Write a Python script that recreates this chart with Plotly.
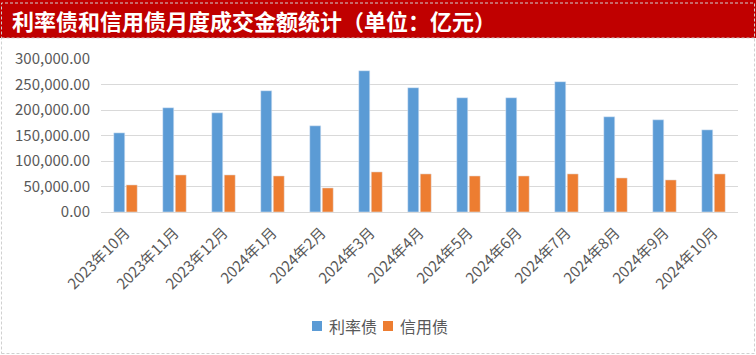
import plotly.graph_objects as go

categories = ["2023年10月", "2023年11月", "2023年12月", "2024年1月", "2024年2月", "2024年3月",
              "2024年4月", "2024年5月", "2024年6月", "2024年7月", "2024年8月", "2024年9月", "2024年10月"]
rate_bonds = [155200, 204400, 194500, 237800, 169000, 277000, 243700, 224000, 224000, 255500, 186700, 180800, 161100]
credit_bonds = [53100, 72700, 72700, 70700, 47200, 78600, 74700, 70700, 70700, 74700, 66800, 62900, 74700]
y_ticks = [0, 50000, 100000, 150000, 200000, 250000, 300000]
series_names = ["利率债", "信用债"]
series_colors = ["#5B9BD5", "#ED7D31"]

title_text = "利率债和信用债月度成交金额统计（单位：亿元）"
FONT = "Noto Sans CJK SC"

W, H = 756, 355
L, R, T, B = 101, 18, 59, 143
pw, ph = W - L - R, H - T - B

def px_x(x):
    return (x - L) / pw

def px_y(y):
    return (H - B - y) / ph

fig = go.Figure()
fig.add_trace(go.Bar(x=categories, y=rate_bonds, name=series_names[0], marker_color=series_colors[0]))
fig.add_trace(go.Bar(x=categories, y=credit_bonds, name=series_names[1], marker_color=series_colors[1]))

fig.update_layout(
    width=W, height=H,
    margin=dict(l=L, r=R, t=T, b=B, pad=0),
    paper_bgcolor="white", plot_bgcolor="white",
    barmode="group", bargap=0.49, bargroupgap=0.12,
    font=dict(family=FONT, color="#595959"),
    showlegend=False,
    xaxis=dict(tickangle=-45, tickfont=dict(size=15, color="#595959", family=FONT),
               showgrid=False, showline=True, linecolor="#D9D9D9", linewidth=1, ticks="",
               ticklabelstandoff=5),
    yaxis=dict(range=[0, 300000], tickvals=y_ticks, tickformat=",.2f",
               tickfont=dict(size=15, color="#595959", family=FONT),
               showgrid=True, gridcolor="#D9D9D9", gridwidth=1, zeroline=False, ticks="",
               ticklabelstandoff=10),
)

shapes = [
    dict(type="rect", xref="paper", yref="paper", x0=px_x(0), x1=px_x(756), y0=px_y(38), y1=px_y(0),
         fillcolor="#C00000", line=dict(width=0), layer="below"),
    dict(type="rect", xref="paper", yref="paper", x0=px_x(1.5), x1=px_x(754.5), y0=px_y(353.5), y1=px_y(3),
         fillcolor="rgba(0,0,0,0)", line=dict(color="#D0D0D0", width=1, dash="3px,2px")),
    dict(type="line", xref="paper", yref="paper", x0=px_x(1.5), x1=px_x(754.5), y0=px_y(38), y1=px_y(38),
         line=dict(color="#D0D0D0", width=1, dash="3px,2px")),
]

# legend (manual, to match spacing)
legend_x = [312, 383]
for name, color, lx in zip(series_names, series_colors, legend_x):
    shapes.append(dict(type="rect", xref="paper", yref="paper", x0=px_x(lx), x1=px_x(lx + 10),
                       y0=px_y(331), y1=px_y(321), fillcolor=color, line=dict(width=0)))
    fig.add_annotation(text=name, xref="paper", yref="paper", x=px_x(lx + 15), y=px_y(326),
                       xanchor="left", yanchor="middle", showarrow=False,
                       font=dict(size=16, color="#595959", family=FONT))

fig.update_layout(shapes=shapes)

fig.add_annotation(text=title_text, xref="paper", yref="paper", x=px_x(10), y=px_y(20),
                   xanchor="left", yanchor="middle", showarrow=False,
                   font=dict(size=22, color="white", family=FONT, weight="bold"))

fig.write_html("out.html", config={"displayModeBar": False},
               post_script="document.body.style.margin='0';document.body.style.overflow='hidden';")
